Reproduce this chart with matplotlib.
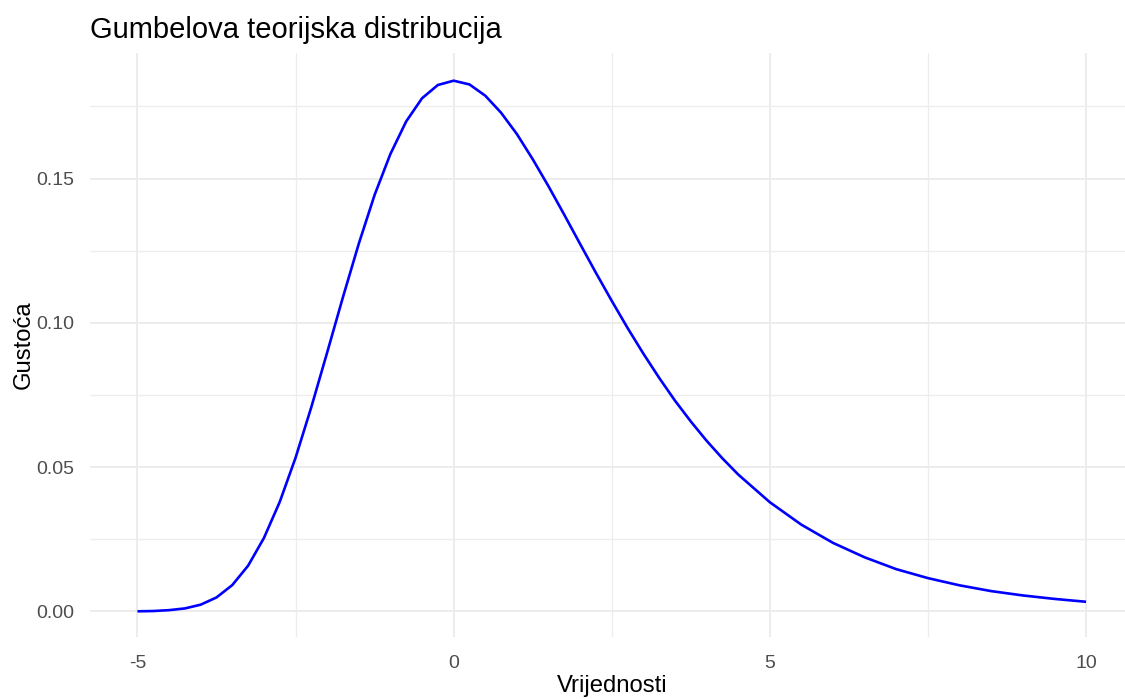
import matplotlib
matplotlib.use('Agg')
import matplotlib.pyplot as plt
from matplotlib.ticker import MultipleLocator

# values
x_vals = [-5, -4.75, -4.5, -4.25, -4, -3.75, -3.5, -3.25, -3, -2.75, -2.5, -2.25, -2, -1.75,
          -1.5, -1.25, -1, -0.75, -0.5, -0.25, 0, 0.25, 0.5, 0.75, 1, 1.25, 1.5, 1.75,
          2, 2.25, 2.5, 2.75, 3, 3.25, 3.5, 3.75, 4, 4.25, 4.5,
          5, 5.5, 6, 6.5, 7, 7.5, 8, 8.5, 9, 9.5, 10]
density = [0.0000, 0.0001, 0.0004, 0.0010, 0.0023, 0.0048, 0.0091, 0.0158, 0.0254, 0.0379,
           0.0532, 0.0708, 0.0897, 0.1089, 0.1274, 0.1443, 0.1585, 0.1698, 0.1778, 0.1824,
           0.1839, 0.1826, 0.1787, 0.1728, 0.1654, 0.1567, 0.1473, 0.1374,
           0.1273, 0.1173, 0.1076, 0.0982, 0.0893, 0.0809, 0.0730, 0.0658, 0.0591, 0.0530, 0.0474,
           0.0378, 0.0300, 0.0237, 0.0187, 0.0146, 0.0115, 0.0090, 0.0070, 0.0055, 0.0043, 0.0033]

x_ticks = [-5, 0, 5, 10]
y_ticks = [0.00, 0.05, 0.10, 0.15]
y_labels = ['0.00', '0.05', '0.10', '0.15']

plt.rcParams['font.family'] = ['Liberation Sans', 'DejaVu Sans']

fig = plt.figure(figsize=(11.25, 6.99), dpi=100)
ax = fig.add_axes([90 / 1125, 62.3 / 699, 1043.5 / 1125, 584 / 699])

ax.plot(x_vals, density, color='#0000FF', linewidth=1.9, solid_joinstyle='round',
        solid_capstyle='butt', zorder=3)

ax.set_xlim(-5.75, 10.75)
ax.set_ylim(-0.0088, 0.1936)
ax.set_xticks(x_ticks)
ax.set_xticklabels([str(t) for t in x_ticks])
ax.set_yticks(y_ticks)
ax.set_yticklabels(y_labels)
ax.xaxis.set_minor_locator(MultipleLocator(2.5))
ax.yaxis.set_minor_locator(MultipleLocator(0.025))

ax.grid(which='major', color='#EBEBEB', linewidth=1.3)
ax.grid(which='minor', color='#EDEDED', linewidth=0.9)
ax.set_axisbelow(True)
for s in ax.spines.values():
    s.set_visible(False)
ax.tick_params(which='both', length=0)
ax.tick_params(axis='x', pad=13, labelsize=14, labelcolor='#4D4D4D')
ax.tick_params(axis='y', pad=11, labelsize=14, labelcolor='#4D4D4D')

# axis titles placed in figure pixels to match the reference
fig.text(612 / 1125, 1 - 692 / 699, 'Vrijednosti', fontsize=17.2, ha='center', va='baseline')
fig.text(24 / 1125, 1 - 345 / 699, 'Gustoća', fontsize=17.2, ha='center', va='center',
         rotation=90)

fig.text(90 / 1125, 1 - 38 / 699, 'Gumbelova teorijska distribucija', fontsize=21,
         ha='left', va='baseline', color='black')

fig.savefig('out.png', dpi=100, facecolor='white')
